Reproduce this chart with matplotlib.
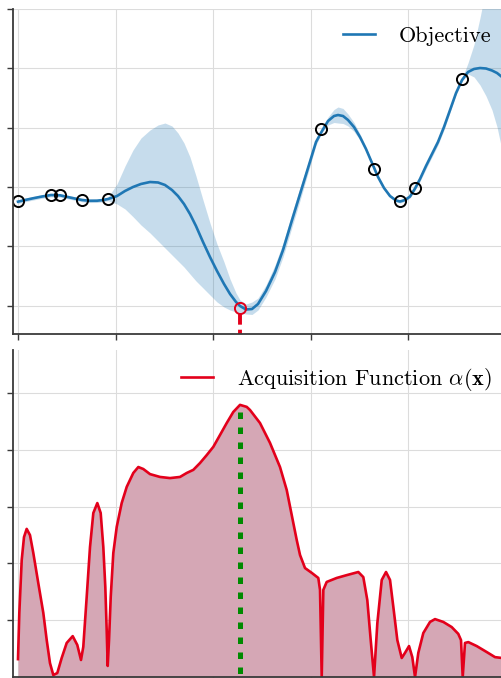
import matplotlib
matplotlib.use("Agg")
import matplotlib.pyplot as plt

plt.rcParams['mathtext.fontset'] = 'cm'
plt.rcParams['font.family'] = ['cmr10', 'DejaVu Serif']
plt.rcParams['axes.formatter.use_mathtext'] = True

# ---------------- data ----------------
obj_x = [0.000, 0.0144, 0.0308, 0.0492, 0.0677, 0.0862, 0.1067, 0.1313, 0.1477, 0.1621,
         0.1744, 0.1846, 0.2031, 0.2195, 0.2359, 0.2523, 0.2708, 0.2872, 0.3015, 0.3159,
         0.3282, 0.3405, 0.3528, 0.3651, 0.3795, 0.3938, 0.4082, 0.4226, 0.4349, 0.4472,
         0.4554, 0.4677, 0.4800, 0.4923, 0.5087, 0.5272, 0.5436, 0.5621, 0.5785, 0.5949,
         0.6113, 0.6236, 0.6359, 0.6482, 0.6564, 0.6667, 0.6769, 0.6892, 0.7015, 0.7138,
         0.7262, 0.7385, 0.7508, 0.7631, 0.7754, 0.7836, 0.7938, 0.8041, 0.8144, 0.8246,
         0.8369, 0.8492, 0.8615, 0.8738, 0.8862, 0.8985, 0.9108, 0.9231, 0.9354, 0.9477,
         0.9600, 0.9723, 0.9826, 0.9928, 1.000]
obj_mean = [-0.247, -0.219, -0.190, -0.160, -0.135, -0.140, -0.177, -0.219, -0.232, -0.231,
            -0.219, -0.202, -0.152, -0.067, 0.000, 0.051, 0.084, 0.076, 0.034, -0.051,
            -0.152, -0.286, -0.455, -0.657, -0.926, -1.178, -1.414, -1.633, -1.801, -1.936,
            -2.003, -2.062, -2.054, -1.970, -1.751, -1.431, -1.061, -0.556, -0.118, 0.320,
            0.758, 0.943, 1.111, 1.195, 1.212, 1.195, 1.128, 1.010, 0.842, 0.640,
            0.404, 0.168, -0.017, -0.152, -0.227, -0.244, -0.219, -0.160, -0.025, 0.135,
            0.354, 0.556, 0.758, 1.010, 1.296, 1.582, 1.801, 1.936, 1.987, 2.003,
            1.995, 1.961, 1.919, 1.852, 1.801]
obj_upper = [-0.217, -0.189, -0.160, -0.130, -0.105, -0.110, -0.147, -0.189, -0.202, -0.201,
             -0.189, -0.172, 0.051, 0.354, 0.623, 0.825, 0.960, 1.044, 1.077, 1.027,
             0.909, 0.741, 0.505, 0.185, -0.219, -0.606, -0.960, -1.263, -1.549, -1.785,
             -1.902, -1.970, -1.936, -1.869, -1.650, -1.313, -0.943, -0.438, -0.008, 0.404,
             0.808, 0.968, 1.178, 1.305, 1.347, 1.322, 1.229, 1.086, 0.892, 0.673,
             0.429, 0.193, 0.008, -0.127, -0.202, -0.219, -0.194, -0.135, 0.000, 0.175,
             0.404, 0.606, 0.808, 1.060, 1.336, 1.612, 1.826, 2.090, 2.400, 2.850,
             3.350, 3.800, 4.200, 4.579, 4.832]
obj_lower = [-0.277, -0.249, -0.220, -0.190, -0.165, -0.170, -0.207, -0.249, -0.262, -0.261,
             -0.249, -0.232, -0.286, -0.370, -0.500, -0.640, -0.774, -0.909, -1.027, -1.145,
             -1.246, -1.347, -1.465, -1.582, -1.700, -1.818, -1.936, -2.020, -2.071, -2.104,
             -2.121, -2.138, -2.146, -2.071, -1.852, -1.549, -1.178, -0.673, -0.227, 0.236,
             0.707, 0.918, 1.044, 1.086, 1.077, 1.069, 1.027, 0.934, 0.791, 0.606,
             0.379, 0.143, -0.042, -0.177, -0.252, -0.269, -0.244, -0.185, -0.050, 0.095,
             0.304, 0.506, 0.708, 0.960, 1.256, 1.552, 1.776, 1.902, 1.852, 1.717,
             1.532, 1.296, 1.010, 0.623, 0.370]

obs_x = [0.000, 0.068, 0.086, 0.131, 0.185, 0.622, 0.730, 0.784, 0.814, 0.911]
obs_y = [-0.236, -0.135, -0.135, -0.219, -0.202, 0.976, 0.303, -0.244, -0.017, 1.818]

next_x = 0.455
next_y = -2.037

acq_x = [0.0, 0.0027, 0.0076, 0.0123, 0.0178, 0.0246, 0.0314, 0.0416, 0.0519, 0.0589,
         0.0656, 0.0724, 0.0806, 0.0896, 0.0999, 0.1122, 0.1216, 0.1292, 0.1339, 0.1409,
         0.1477, 0.1545, 0.1627, 0.1696, 0.1750, 0.1791, 0.1819, 0.1840, 0.1867, 0.1902,
         0.1955, 0.2025, 0.2127, 0.2230, 0.2365, 0.2468, 0.2570, 0.2708, 0.2913, 0.3118,
         0.3323, 0.3461, 0.3596, 0.3733, 0.3871, 0.4006, 0.4144, 0.4281, 0.4416, 0.4554,
         0.4691, 0.4759, 0.4964, 0.5169, 0.5374, 0.5512, 0.5647, 0.5717, 0.5785, 0.5887,
         0.6025, 0.6160, 0.6195, 0.6230, 0.6263, 0.6332, 0.6537, 0.6743, 0.6981, 0.7083,
         0.7165, 0.7235, 0.7303, 0.7371, 0.7461, 0.7549, 0.7631, 0.7699, 0.7781, 0.7871,
         0.7938, 0.8021, 0.8088, 0.8144, 0.8211, 0.8314, 0.8451, 0.8554, 0.8724, 0.8896,
         0.9031, 0.9087, 0.9122, 0.9169, 0.9237, 0.9409, 0.9614, 0.9785, 0.9928, 1.0]
acq_y = [0.063, 0.226, 0.412, 0.493, 0.522, 0.500, 0.437, 0.331, 0.226, 0.130,
         0.049, 0.007, 0.014, 0.067, 0.120, 0.144, 0.113, 0.060, 0.106, 0.282,
         0.458, 0.578, 0.613, 0.578, 0.458, 0.317, 0.166, 0.039, 0.130, 0.282,
         0.437, 0.529, 0.613, 0.670, 0.719, 0.740, 0.733, 0.715, 0.705, 0.701,
         0.705, 0.719, 0.730, 0.754, 0.782, 0.811, 0.853, 0.895, 0.934, 0.959,
         0.952, 0.941, 0.895, 0.825, 0.740, 0.659, 0.543, 0.483, 0.430, 0.384,
         0.367, 0.349, 0.307, 0.0, 0.307, 0.335, 0.349, 0.359, 0.370, 0.352,
         0.271, 0.130, 0.0, 0.190, 0.342, 0.370, 0.342, 0.247, 0.130, 0.067,
         0.085, 0.109, 0.070, 0.0, 0.085, 0.155, 0.194, 0.204, 0.194, 0.176,
         0.152, 0.130, 0.0, 0.120, 0.123, 0.109, 0.088, 0.070, 0.067, 0.063]
acq_peak = 0.959

x_ticks = [0.0, 0.2, 0.4, 0.6, 0.8, 1.0]
top_yticks = [-2, -1, 0, 1, 2, 3]
bot_yticks = [0.2, 0.4, 0.6, 0.8, 1.0]

# ---------------- figure ----------------
W, H = 502, 678
fig = plt.figure(figsize=(W / 100, H / 100), dpi=100)

def px_rect(left, top, right, bottom):
    return [left / W, 1 - bottom / H, (right - left) / W, (bottom - top) / H]

ax1 = fig.add_axes(px_rect(13, 8.8, 510, 334))
ax2 = fig.add_axes(px_rect(13, 350, 510, 677))

blue = '#1f77b4'
red = '#e3001b'
grid_c = '#dcdcdc'
spine_c = '#3a3a3a'

for ax in (ax1, ax2):
    ax.set_xlim(-0.01026, 1.0092)
    ax.set_xticks(x_ticks)
    ax.set_xticklabels([])
    ax.grid(True, color=grid_c, linewidth=0.8)
    ax.set_axisbelow(True)
    for s in ('top', 'right'):
        ax.spines[s].set_visible(False)
    for s in ('left', 'bottom'):
        ax.spines[s].set_color(spine_c)
        ax.spines[s].set_linewidth(1.3)
    ax.tick_params(direction='out', length=4, width=1.0, color=spine_c)

# top panel
ax1.set_ylim(-2.4747, 3.0)
ax1.set_yticks(top_yticks)
ax1.set_yticklabels([])
ax1.fill_between(obj_x, obj_lower, obj_upper, color=blue, alpha=0.25, linewidth=0)
ax1.plot(obj_x, obj_mean, color=blue, linewidth=1.9, label='Objective')
ax1.plot(obs_x, obs_y, linestyle='none', marker='o', markersize=8, markerfacecolor='none',
         markeredgecolor='black', markeredgewidth=1.4)
ax1.plot([next_x], [next_y], linestyle='none', marker='o', markersize=8, markerfacecolor='none',
         markeredgecolor=red, markeredgewidth=1.4)
ax1.plot([next_x, next_x], [next_y - 0.09, -2.4747], color=red, linewidth=2.8,
         dashes=(3.0, 1.3), solid_capstyle='butt', dash_capstyle='butt')
ax1.legend(loc='center left', bbox_to_anchor=(343 / W, 1 - 36 / H), bbox_transform=fig.transFigure,
           frameon=False, fontsize=16, borderpad=0, borderaxespad=0,
           handlelength=1.45, handletextpad=1.05)

# bottom panel
ax2.set_ylim(0, 1.1524)
ax2.set_yticks(bot_yticks)
ax2.set_yticklabels([])
ax2.fill_between(acq_x, 0, acq_y, color='#d5a7b5', linewidth=0)
ax2.plot(acq_x, acq_y, color=red, linewidth=1.9, label=r'Acquisition Function $\alpha(\mathbf{x})$')
ax2.plot([next_x, next_x], [acq_peak - 0.025, 0], color='#008a00', linewidth=3.6,
         dashes=(1.3, 1.7), dash_capstyle='butt')
ax2.legend(loc='center left', bbox_to_anchor=(181 / W, 1 - 379 / H), bbox_transform=fig.transFigure,
           frameon=False, fontsize=16, borderpad=0, borderaxespad=0,
           handlelength=1.45, handletextpad=1.05)

fig.savefig('out.png', dpi=100)
